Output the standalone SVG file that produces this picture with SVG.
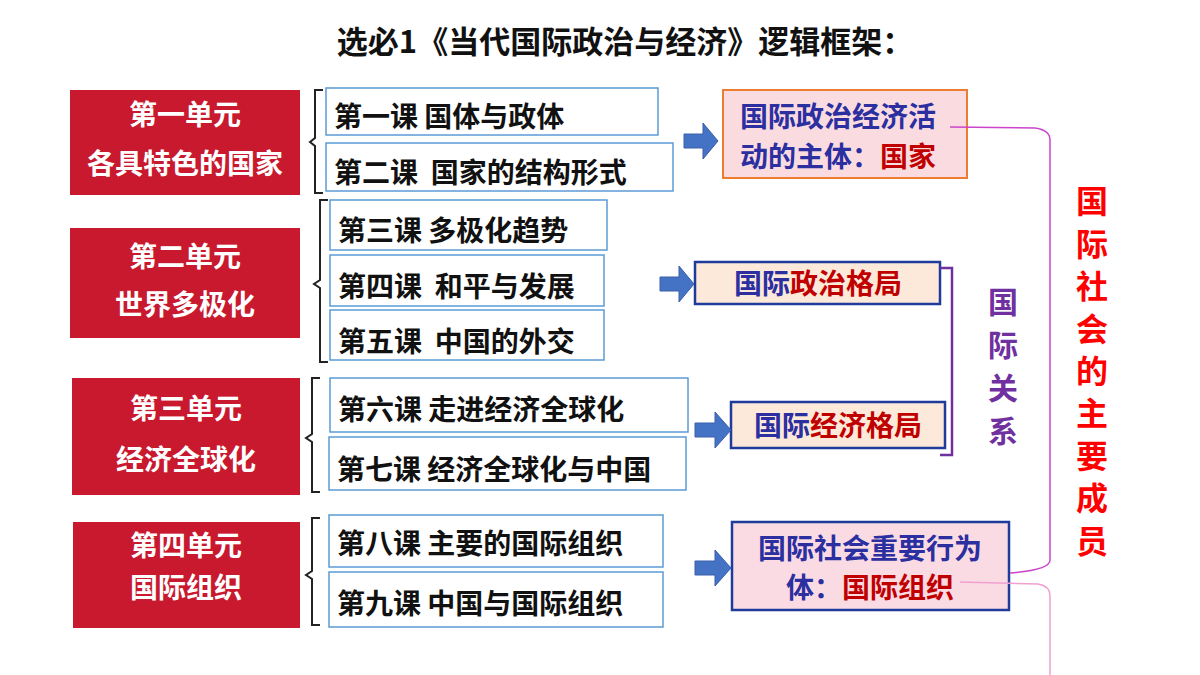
<svg xmlns="http://www.w3.org/2000/svg" width="1200" height="675" viewBox="0 0 1200 675">
<style>
text{font-family:"Noto Sans CJK SC","Liberation Sans",sans-serif;font-weight:bold;white-space:pre}
.u{fill:#C8192E}
.ut{fill:#fff;font-size:28px;text-anchor:middle}
.l{fill:#fff;stroke:#5B9BD5;stroke-width:1.5}
.lt{fill:#111;font-size:28px}
.br{fill:none;stroke:#222;stroke-width:2}
.ar{fill:#4472C4;stroke:#3A5FA8;stroke-width:1}
.b{fill:#2B2FA0}
.r{fill:#C00000}
</style>
<rect width="1200" height="675" fill="#fff"/>
<text x="625" y="53" text-anchor="middle" font-size="31" fill="#111">选必1《当代国际政治与经济》逻辑框架：</text>
<g id="unit1"><rect class="u" x="70" y="90" width="230" height="105"/><text class="ut" x="185" y="125">第一单元</text><text class="ut" x="185" y="174">各具特色的国家</text></g>
<g id="unit2"><rect class="u" x="70" y="228" width="230" height="110"/><text class="ut" x="185" y="267">第二单元</text><text class="ut" x="185" y="315">世界多极化</text></g>
<g id="unit3"><rect class="u" x="72" y="378" width="228" height="117"/><text class="ut" x="186" y="419">第三单元</text><text class="ut" x="186" y="470">经济全球化</text></g>
<g id="unit4"><rect class="u" x="73" y="522" width="227" height="106"/><text class="ut" x="186" y="556">第四单元</text><text class="ut" x="186" y="598">国际组织</text></g>
<g id="lessons">
<g id="l1"><rect class="l" x="326" y="88" width="332" height="47"/><text class="lt" x="334" y="127">第一课 国体与政体</text></g>
<g id="l2"><rect class="l" x="326" y="143" width="347" height="48"/><text class="lt" x="334" y="183">第二课  国家的结构形式</text></g>
<g id="l3"><rect class="l" x="330" y="200" width="277" height="50"/><text class="lt" x="338" y="241">第三课 多极化趋势</text></g>
<g id="l4"><rect class="l" x="330" y="255" width="274" height="51"/><text class="lt" x="338" y="297">第四课  和平与发展</text></g>
<g id="l5"><rect class="l" x="330" y="310" width="274" height="50"/><text class="lt" x="338" y="352">第五课  中国的外交</text></g>
<g id="l6"><rect class="l" x="330" y="378" width="358" height="54"/><text class="lt" x="338" y="420">第六课 走进经济全球化</text></g>
<g id="l7"><rect class="l" x="329" y="437" width="357" height="53"/><text class="lt" x="337" y="480">第七课 经济全球化与中国</text></g>
<g id="l8"><rect class="l" x="329" y="515" width="334" height="52"/><text class="lt" x="337" y="554">第八课 主要的国际组织</text></g>
<g id="l9"><rect class="l" x="329" y="572" width="334" height="55"/><text class="lt" x="337" y="614">第九课 中国与国际组织</text></g>
</g>
<g id="r1"><rect x="723" y="90" width="244" height="88" fill="#FADCE0" stroke="#ED7D31" stroke-width="2"/><text x="740" y="127" font-size="28" class="b">国际政治经济活</text><text x="740" y="167" font-size="28"><tspan class="b">动的主体：</tspan><tspan class="r">国家</tspan></text></g>
<g id="r2"><rect x="695" y="262" width="245" height="42" fill="#FDE9D9" stroke="#1F3B9C" stroke-width="2.5"/><text x="818" y="294" font-size="28" text-anchor="middle"><tspan class="b">国际</tspan><tspan class="r">政治格局</tspan></text></g>
<g id="r3"><rect x="731" y="402" width="214" height="46" fill="#FDE9D9" stroke="#1F3B9C" stroke-width="2.5"/><text x="838" y="436" font-size="28" text-anchor="middle"><tspan class="b">国际</tspan><tspan class="r">经济格局</tspan></text></g>
<g id="r4"><rect x="732" y="522" width="277" height="88" fill="#FADBE4" stroke="#1F3B9C" stroke-width="2.5"/><text x="870" y="559" font-size="28" text-anchor="middle" class="b">国际社会重要行为</text><text x="870" y="598" font-size="28" text-anchor="middle"><tspan class="b">体：</tspan><tspan class="r">国际组织</tspan></text></g>
<g id="labels">
<g font-size="30" fill="#7030A0" text-anchor="middle"><text x="1003" y="313">国</text><text x="1003" y="356">际</text><text x="1003" y="399">关</text><text x="1003" y="442">系</text></g>
<g font-size="32" fill="#FF0000" text-anchor="middle"><text x="1092" y="213">国</text><text x="1092" y="256">际</text><text x="1092" y="298">社</text><text x="1092" y="341">会</text><text x="1092" y="383">的</text><text x="1092" y="425">主</text><text x="1092" y="468">要</text><text x="1092" y="510">成</text><text x="1092" y="553">员</text></g>
</g>
<g id="connectors">
<path class="br" d="M323 90 h-8 v48 l-5 4 l5 4 v47 h8"/>
<path class="br" d="M328 200 h-8 v80 l-6 4 l6 4 v74 h8"/>
<path class="br" d="M320 378 h-8 v56 l-6 4 l6 4 v50 h8"/>
<path class="br" d="M320 518 h-8 v53 l-6 4 l6 4 v46 h8"/>
<path class="ar" d="M684 134 h19 v-11 l15 18 l-15 18 v-11 h-19z"/>
<path class="ar" d="M660 277 h19 v-11 l15 18 l-15 18 v-11 h-19z"/>
<path class="ar" d="M695 423 h20 v-11 l16 18 l-16 18 v-11 h-20z"/>
<path class="ar" d="M695 561 h20 v-11 l16 18 l-16 18 v-11 h-20z"/>
<path d="M940 268 h12 v187 h-12" fill="none" stroke="#7030A0" stroke-width="2.5"/>
<path d="M950 127 L1035 128 Q1050 130 1050 140 V560 Q1050 570 1010 573" fill="none" stroke="#CC44CC" stroke-width="1.5"/>
<path d="M960 582 L1038 584 Q1050 586 1050 596 V675" fill="none" stroke="#F0A0D0" stroke-width="1.5"/>
</g>
</svg>
